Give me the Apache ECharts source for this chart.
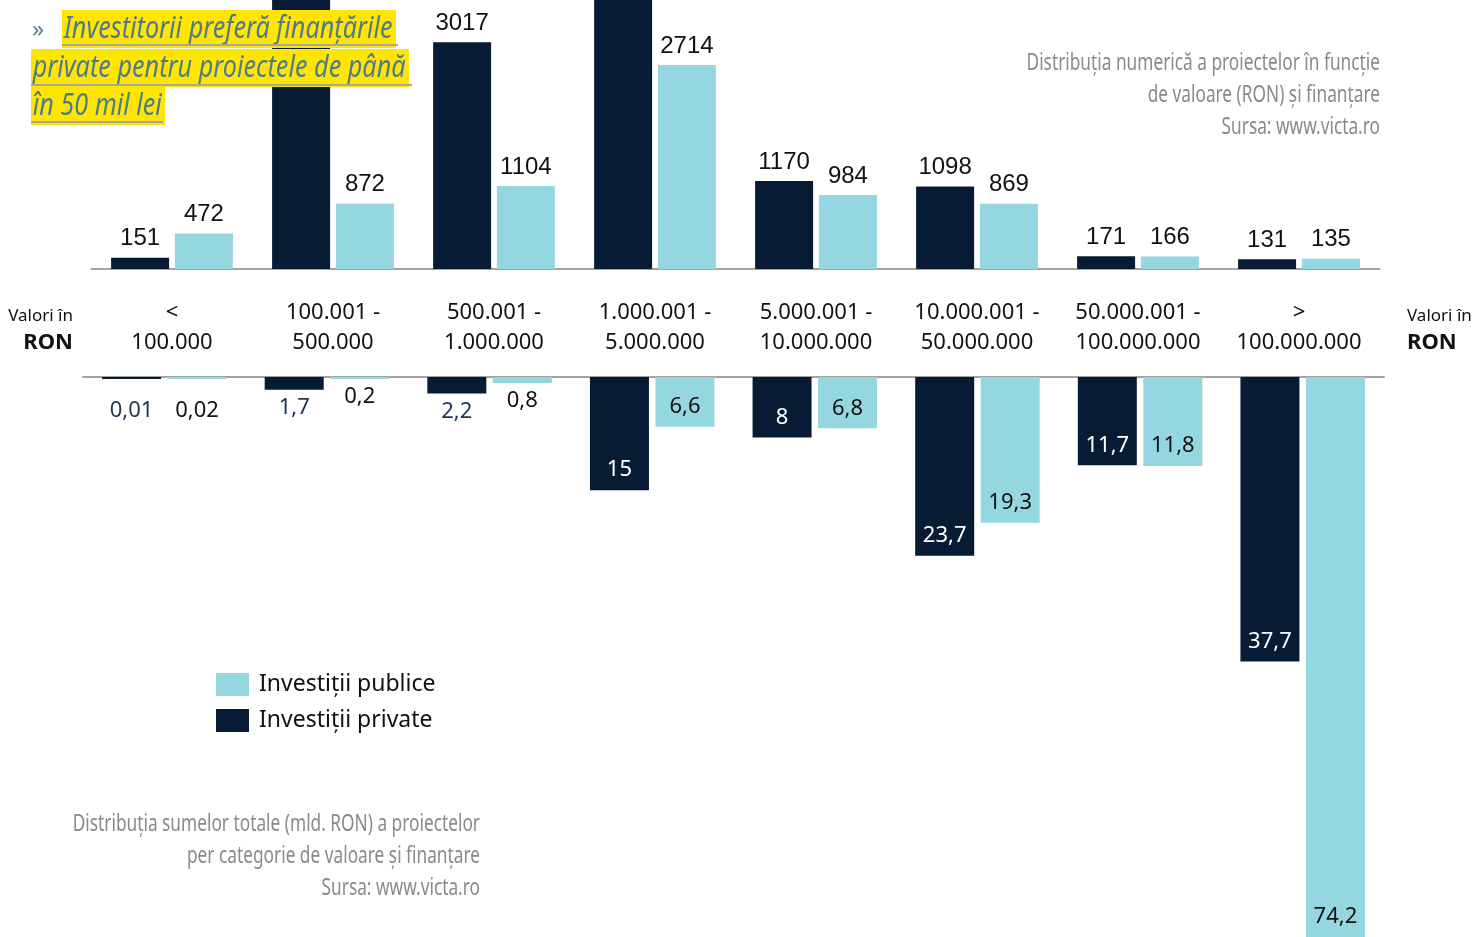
<!DOCTYPE html>
<html>
<head>
<meta charset="utf-8">
<script src="https://cdn.jsdelivr.net/npm/echarts@6/dist/echarts.min.js"></script>
<style>
html, body { margin: 0; padding: 0; background: #fff; }
#chart { width: 1473px; height: 937px; }
</style>
</head>
<body>
<div id="chart"></div>
<script>
// categorii de valoare (RON)
const categories = ['<\n100.000', '100.001 -\n500.000', '500.001 -\n1.000.000', '1.000.001 -\n5.000.000',
    '5.000.001 -\n10.000.000', '10.000.001 -\n50.000.000', '50.000.001 -\n100.000.000', '>\n100.000.000'];
// numar de proiecte (barele 2 si 4 private ies din imagine, valori estimate)
const countPrivate = [151, 7400, 3017, 6170, 1170, 1098, 171, 131];
const countPublic = [472, 872, 1104, 2714, 984, 869, 166, 135];
// sume totale (mld. RON)
const sumPrivate = [0.01, 1.7, 2.2, 15, 8, 23.7, 11.7, 37.7];
const sumPublic = [0.02, 0.2, 0.8, 6.6, 6.8, 19.3, 11.8, 74.2];

const NAVY = '#081b35';
const LIGHT = '#95d7e0';
const SANS = '"Noto Sans", "Open Sans", sans-serif';
const LIB = '"Liberation Sans", Arial, sans-serif';

const chart = echarts.init(document.getElementById('chart'));

function fmt(p) {
    return String(p.value).replace('.', ',');
}

// etichete sub bara pentru valori mici, in interior pentru cele mari
function sumItems(values, insideColor, outsideColor) {
    return values.map(v => ({
        value: v,
        label: v < 3
            ? { position: 'bottom', distance: v < 0.1 ? 21 : 7, color: outsideColor }
            : { position: 'insideBottom', distance: 9, color: insideColor }
    }));
}

const titleFont = 'italic 30px ' + SANS;
const noteFont = '24px ' + SANS;
const titleScale = 0.84;
const noteScale = 0.72;

function titleLine(text, x, y) {
    return {
        type: 'text', x: x, y: y, z: 100, scaleX: titleScale,
        style: {
            text: text, font: titleFont, fill: '#4f7b8a',
            backgroundColor: '#ffe600', padding: [3, 4, 5, 2], textVerticalAlign: 'middle'
        }
    };
}

function underline(x1, x2, y) {
    return { type: 'rect', z: 101, shape: { x: x1, y: y, width: x2 - x1, height: 2 }, style: { fill: '#a3a8a0' } };
}

const option = {
    animation: false,
    backgroundColor: '#fff',
    legend: {
        data: ['Investiții publice', 'Investiții private'],
        orient: 'vertical',
        left: 211,
        top: 668,
        itemWidth: 33,
        itemHeight: 23,
        itemGap: 13,
        icon: 'rect',
        textStyle: { fontSize: 23, color: '#111', fontFamily: SANS, padding: [0, 0, 0, 5] }
    },
    grid: [
        { left: 91.5, top: 0, width: 1288, height: 269 },
        { left: 83, top: 377, width: 1301, height: 563 }
    ],
    xAxis: [
        {
            gridIndex: 0,
            type: 'category',
            data: categories,
            axisTick: { show: false },
            axisLine: { lineStyle: { color: '#a3a3a3', width: 2 } },
            axisLabel: { interval: 0, margin: 29, fontSize: 22, lineHeight: 30, color: '#111', fontFamily: SANS }
        },
        {
            gridIndex: 1,
            type: 'category',
            data: categories,
            position: 'top',
            axisTick: { show: false },
            axisLabel: { show: false },
            axisLine: { lineStyle: { color: '#a3a3a3', width: 2 } }
        }
    ],
    yAxis: [
        { gridIndex: 0, type: 'value', min: 0, max: 3580, show: false },
        { gridIndex: 1, type: 'value', min: 0, max: 74.2, inverse: true, show: false }
    ],
    series: [
        {
            name: 'Investiții private',
            type: 'bar',
            xAxisIndex: 0,
            yAxisIndex: 0,
            data: countPrivate,
            barWidth: 58,
            barGap: '10%',
            itemStyle: { color: NAVY },
            label: { show: true, position: 'top', distance: 7, fontSize: 24, color: '#111', fontFamily: LIB }
        },
        {
            name: 'Investiții publice',
            type: 'bar',
            xAxisIndex: 0,
            yAxisIndex: 0,
            data: countPublic,
            barWidth: 58,
            barGap: '10%',
            itemStyle: { color: LIGHT },
            label: { show: true, position: 'top', distance: 7, fontSize: 24, color: '#111', fontFamily: LIB }
        },
        {
            name: 'Investiții private',
            type: 'bar',
            xAxisIndex: 1,
            yAxisIndex: 1,
            data: sumItems(sumPrivate, '#fff', '#1c3354'),
            barWidth: 59,
            barGap: '11%',
            barMinHeight: 2,
            itemStyle: { color: NAVY },
            label: { show: true, fontSize: 22, fontFamily: SANS, formatter: fmt }
        },
        {
            name: 'Investiții publice',
            type: 'bar',
            xAxisIndex: 1,
            yAxisIndex: 1,
            data: sumItems(sumPublic, '#111', '#111'),
            barWidth: 59,
            barGap: '11%',
            barMinHeight: 2,
            itemStyle: { color: LIGHT },
            label: { show: true, fontSize: 22, fontFamily: SANS, formatter: fmt }
        }
    ],
    graphic: [
        // titlu evidentiat
        { type: 'text', x: 32, y: 30, z: 100, style: { text: '»', font: '24px ' + SANS, fill: '#5f8593', textVerticalAlign: 'middle' } },
        titleLine('Investitorii preferă finanțările', 62, 29),
        titleLine('private pentru proiectele de până', 31, 68),
        titleLine('în 50 mil lei', 31, 106),
        underline(62, 398, 44),
        underline(31, 412, 84),
        underline(31, 163, 121),
        // surse
        {
            type: 'text', x: 1380, y: 47, z: 100, scaleX: noteScale,
            style: {
                text: 'Distribuția numerică a proiectelor în funcție\nde valoare (RON) și finanțare\nSursa: www.victa.ro',
                font: noteFont, lineHeight: 32, fill: '#8a8a8a', textAlign: 'right', textVerticalAlign: 'top'
            }
        },
        {
            type: 'text', x: 480, y: 808, z: 100, scaleX: noteScale,
            style: {
                text: 'Distribuția sumelor totale (mld. RON) a proiectelor\nper categorie de valoare și finanțare\nSursa: www.victa.ro',
                font: noteFont, lineHeight: 32, fill: '#8a8a8a', textAlign: 'right', textVerticalAlign: 'top'
            }
        },
        // Valori in RON
        { type: 'text', x: 73, y: 316, style: { text: 'Valori în', font: '17px ' + SANS, fill: '#111', textAlign: 'right', textVerticalAlign: 'middle' } },
        { type: 'text', x: 73, y: 343, style: { text: 'RON', font: 'bold 22px ' + SANS, fill: '#111', textAlign: 'right', textVerticalAlign: 'middle' } },
        { type: 'text', x: 1407, y: 316, style: { text: 'Valori în', font: '17px ' + SANS, fill: '#111', textVerticalAlign: 'middle' } },
        { type: 'text', x: 1407, y: 343, style: { text: 'RON', font: 'bold 22px ' + SANS, fill: '#111', textVerticalAlign: 'middle' } }
    ]
};

chart.setOption(option);
window.addEventListener('resize', () => chart.resize());
</script>
</body>
</html>
